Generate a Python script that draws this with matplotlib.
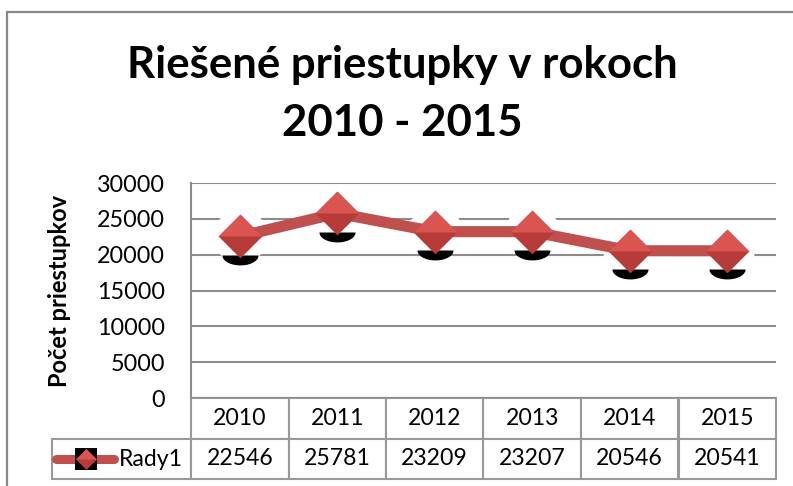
import matplotlib
matplotlib.use("Agg")
import matplotlib.pyplot as plt
import matplotlib.transforms as mtransforms
from matplotlib.patches import Rectangle
import numpy as np

plt.rcParams['font.family'] = ['Lato', 'DejaVu Sans']

# ---- data ----
years = ['2010', '2011', '2012', '2013', '2014', '2015']
values = [22546, 25781, 23209, 23207, 20546, 20541]
series_name = 'Rady1'
title = 'Riešené priestupky v rokoch\n2010 - 2015'
ylabel = 'Počet priestupkov'
yticks = [0, 5000, 10000, 15000, 20000, 25000, 30000]

W, H, DPI = 793, 486, 100
fig = plt.figure(figsize=(W / DPI, H / DPI), dpi=DPI)

# outer chart border
fig.add_artist(Rectangle((6.5 / W, -0.1), 2.0, 1.1 - 12.5 / H, transform=fig.transFigure,
                         fill=False, edgecolor='#888888', linewidth=1.6))

ax_l, ax_r, ax_t, ax_b = 191, 776, 183, 398
ax = fig.add_axes([ax_l / W, 1 - ax_b / H, (ax_r - ax_l) / W, (ax_b - ax_t) / H])

x = list(range(len(years)))
line_color = '#C0504D'
top_col, bot_col = '#DA5552', '#B73B38'

# white halo behind markers (hides gridlines)
ax.plot(x, values, linestyle='none', marker='o', markersize=39, color='white',
        markeredgewidth=0, zorder=1.5)
ax.plot(x, values, color=line_color, linewidth=8, zorder=2, solid_capstyle='butt')

# black shadow crescent below each marker
t = np.linspace(0, np.pi, 30)
half = [(np.cos(a), -0.55 * np.sin(a)) for a in t] + [(1.0, 0.0)]
down = ax.transData + mtransforms.ScaledTranslation(0, -18.5 / DPI, fig.dpi_scale_trans)
ax.plot(x, values, linestyle='none', marker=half, markersize=26, color='black',
        markeredgewidth=0, transform=down, zorder=3)

diamond = [(-1, 0), (0, 1.0), (1, 0), (0, -1.0), (-1, 0)]
top_tri = [(-1, 0), (0, 1.0), (1, 0), (-1, 0)]
ax.plot(x, values, linestyle='none', marker=diamond, markersize=31.5, color=bot_col,
        markeredgewidth=0, zorder=5)
ax.plot(x, values, linestyle='none', marker=top_tri, markersize=31.5, color=top_col,
        markeredgewidth=0, zorder=6)

ax.set_xlim(-0.5, len(years) - 0.5)
ax.set_ylim(0, 30000)
ax.set_yticks(yticks)
ax.set_yticklabels([str(v) for v in yticks], fontsize=16.8)
ax.set_xticks([])
ax.tick_params(axis='y', length=0, pad=18.5)
ax.grid(axis='y', color='#8C8C8C', linewidth=1.5, zorder=0)
ax.set_axisbelow(True)
for s in ['top', 'right', 'bottom']:
    ax.spines[s].set_visible(False)
ax.spines['left'].set_color('#8C8C8C')
ax.spines['left'].set_linewidth(1.5)

ax.set_ylabel(ylabel, fontsize=17, fontweight='bold', labelpad=19)

# data table
tbl_left, tbl_bottom = 52, 479
aw, ah = ax_r - ax_l, ax_b - ax_t
first_w = ax_l - tbl_left
col_w = aw / len(years)
widths = [first_w] + [col_w] * len(years)
tot = sum(widths)
table = ax.table(cellText=[[''] + [str(v) for v in values]],
                 colLabels=[''] + years,
                 colWidths=[w / tot for w in widths],
                 cellLoc='center',
                 bbox=[(tbl_left - ax_l) / aw, -(tbl_bottom - ax_b) / ah,
                       tot / aw, (tbl_bottom - ax_b) / ah])
table.auto_set_font_size(False)
table.set_fontsize(16.6)
for (r, c), cell in table.get_celld().items():
    cell.set_edgecolor('#999999')
    cell.set_linewidth(1.5)
    if r == 0 and c == 0:
        cell.visible_edges = ''

# legend sample in the first table cell
ly = -(459 - ax_b) / ah
ax.plot([(56 - ax_l) / aw, (114 - ax_l) / aw], [ly, ly], transform=ax.transAxes,
        color=line_color, linewidth=6.5, solid_capstyle='round', clip_on=False, zorder=7)
mx = (86 - ax_l) / aw
ax.plot([mx], [ly], transform=ax.transAxes, marker='s', markersize=16, color='black',
        markeredgewidth=0, clip_on=False, zorder=8)
ax.plot([mx], [ly], transform=ax.transAxes, marker=diamond, markersize=15, color=bot_col,
        markeredgewidth=0, clip_on=False, zorder=9)
ax.plot([mx], [ly], transform=ax.transAxes, marker=top_tri, markersize=15, color=top_col,
        markeredgewidth=0, clip_on=False, zorder=10)
ax.text((183 - ax_l) / aw, ly, series_name, transform=ax.transAxes, ha='right', va='center',
        fontsize=16.6, zorder=11)

fig.text(402 / W, 1 - 94 / H, title, ha='center', va='center', fontsize=31.5,
         fontweight='bold', linespacing=1.55)

fig.savefig('out.png', dpi=DPI)
